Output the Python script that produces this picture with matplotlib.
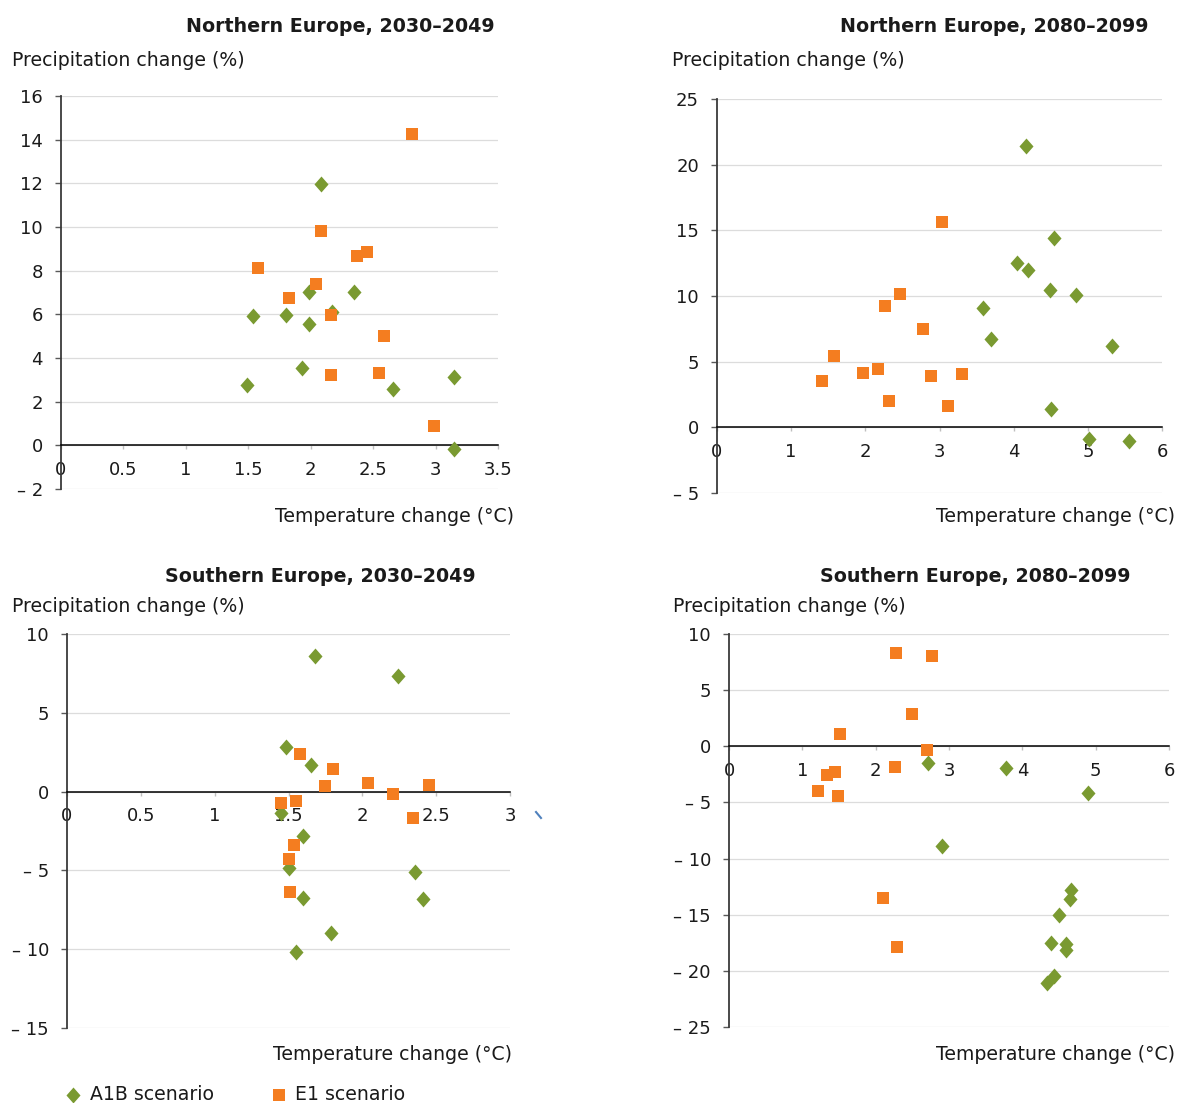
import matplotlib
matplotlib.use("Agg")
import matplotlib.pyplot as plt
from matplotlib.ticker import FuncFormatter, MultipleLocator
from matplotlib.path import Path
from matplotlib.lines import Line2D

plt.rcParams["font.family"] = ["DejaVu Sans"]

# ---- data: temperature change (°C) and precipitation change (%) ----
ne2030_a1b_temp = [1.49, 1.54, 1.80, 1.99, 1.99, 1.93, 2.08, 2.17, 2.35, 2.66, 3.15, 3.15]
ne2030_a1b_prec = [2.75, 5.92, 5.98, 7.03, 5.54, 3.54, 11.98, 6.11, 7.03, 2.60, 3.12, -0.18]
ne2030_e1_temp = [1.58, 1.83, 2.04, 2.08, 2.16, 2.16, 2.37, 2.45, 2.59, 2.55, 2.81, 2.99]
ne2030_e1_prec = [8.14, 6.75, 7.38, 9.83, 5.95, 3.21, 8.67, 8.84, 5.03, 3.30, 14.24, 0.87]

ne2080_a1b_temp = [4.17, 4.55, 4.05, 4.19, 4.49, 4.84, 3.58, 3.70, 5.32, 4.51, 5.02, 5.55]
ne2080_a1b_prec = [21.39, 14.38, 12.50, 11.99, 10.49, 10.11, 9.12, 6.76, 6.20, 1.40, -0.91, -1.04]
ne2080_e1_temp = [3.04, 2.47, 2.27, 2.78, 1.58, 2.17, 1.97, 1.42, 2.89, 3.30, 2.32, 3.11]
ne2080_e1_prec = [15.65, 10.19, 9.27, 7.52, 5.46, 4.45, 4.17, 3.51, 3.89, 4.04, 2.01, 1.63]

se2030_a1b_temp = [1.68, 2.24, 1.48, 1.65, 1.45, 1.60, 1.50, 1.60, 2.36, 2.41, 1.79, 1.55]
se2030_a1b_prec = [8.58, 7.34, 2.85, 1.71, -1.35, -2.83, -4.84, -6.77, -5.10, -6.83, -8.99, -10.19]
se2030_e1_temp = [1.58, 1.80, 1.75, 2.04, 2.21, 2.45, 1.45, 1.55, 2.34, 1.54, 1.50, 1.51]
se2030_e1_prec = [2.37, 1.44, 0.34, 0.55, -0.17, 0.44, -0.70, -0.59, -1.69, -3.40, -4.25, -6.36]

se2080_a1b_temp = [2.72, 3.78, 4.89, 2.90, 4.66, 4.65, 4.50, 4.39, 4.59, 4.60, 4.43, 4.34]
se2080_a1b_prec = [-1.51, -1.96, -4.15, -8.84, -12.79, -13.59, -15.01, -17.51, -17.63, -18.16, -20.50, -21.10]
se2080_e1_temp = [2.28, 2.77, 2.50, 1.51, 2.70, 2.26, 1.33, 1.44, 1.21, 1.48, 2.10, 2.29]
se2080_e1_prec = [8.34, 8.01, 2.91, 1.13, -0.33, -1.84, -2.52, -2.31, -4.01, -4.45, -13.47, -17.89]

series_names = ["A1B scenario", "E1 scenario"]

GREEN = "#7A9A31"
ORANGE = "#F47D20"
TEXT = "#1a1a1a"
LABEL_SIZE = 13.6
TICK_SIZE = 13

W, H = 1177, 1103
fig = plt.figure(figsize=(W / 100, H / 100), dpi=100)


def box(left, right, top, bottom):
    return [left / W, 1 - bottom / H, (right - left) / W, (bottom - top) / H]


diamond = Path([(0, 0.5), (0.44, 0), (0, -0.5), (-0.44, 0), (0, 0.5)],
               [Path.MOVETO, Path.LINETO, Path.LINETO, Path.LINETO, Path.CLOSEPOLY])
DIAMOND_SIZE = 11.5
SQUARE_SIZE = 8.9


def fmt(v, _pos=None):
    if abs(v) < 1e-9:
        return "0"
    if v < 0:
        return "\u2013 %g" % abs(v)
    return "%g" % v


def panel(rect, a_t, a_p, e_t, e_p, xlim, xstep, ylim, ystep):
    ax = fig.add_axes(rect)
    ax.set_xlim(*xlim)
    ax.set_ylim(*ylim)
    for s in ("top", "right"):
        ax.spines[s].set_visible(False)
    ax.spines["bottom"].set_position(("data", 0))
    ax.spines["bottom"].set_color("black")
    ax.spines["bottom"].set_linewidth(1.1)
    ax.spines["left"].set_color("#3a3a3a")
    ax.spines["left"].set_linewidth(1.3)
    ax.xaxis.set_major_locator(MultipleLocator(xstep))
    ax.yaxis.set_major_locator(MultipleLocator(ystep))
    ax.xaxis.set_major_formatter(FuncFormatter(fmt))
    ax.yaxis.set_major_formatter(FuncFormatter(fmt))
    ax.tick_params(axis="x", direction="out", length=3, width=1, color="#BFBFBF",
                   labelsize=TICK_SIZE, labelcolor=TEXT, pad=8)
    ax.tick_params(axis="y", direction="out", length=4, width=1, color="#595959",
                   labelsize=TICK_SIZE, labelcolor=TEXT, pad=9)
    ax.grid(axis="y", color="#DCDCDC", linewidth=0.9)
    ax.set_axisbelow(True)
    ax.plot(a_t, a_p, linestyle="none", marker=diamond, markersize=DIAMOND_SIZE,
            color=GREEN, markeredgewidth=0, label=series_names[0], zorder=3)
    ax.plot(e_t, e_p, linestyle="none", marker="s", markersize=SQUARE_SIZE,
            color=ORANGE, markeredgewidth=0, label=series_names[1], zorder=4)
    ax.patch.set_alpha(0)
    return ax


panel(box(61, 498, 96, 489), ne2030_a1b_temp, ne2030_a1b_prec,
      ne2030_e1_temp, ne2030_e1_prec, (0, 3.5), 0.5, (-2, 16), 2)
panel(box(717, 1162, 99, 493), ne2080_a1b_temp, ne2080_a1b_prec,
      ne2080_e1_temp, ne2080_e1_prec, (0, 6), 1, (-5, 25), 5)
panel(box(67, 510, 634, 1028), se2030_a1b_temp, se2030_a1b_prec,
      se2030_e1_temp, se2030_e1_prec, (0, 3), 0.5, (-15, 10), 5)
panel(box(729, 1169, 634, 1027), se2080_a1b_temp, se2080_a1b_prec,
      se2080_e1_temp, se2080_e1_prec, (0, 6), 1, (-25, 10), 5)


def ftext(x, y, s, **kw):
    fig.text(x / W, 1 - y / H, s, color=TEXT, **kw)


# panel titles
titles = [(340, 27, "Northern Europe, 2030\u20132049"),
          (994, 27, "Northern Europe, 2080\u20132099"),
          (320, 576, "Southern Europe, 2030\u20132049"),
          (975, 576, "Southern Europe, 2080\u20132099")]
for x, y, s in titles:
    ftext(x, y, s, ha="center", va="center", fontsize=13.7, fontweight="bold")

# axis titles
for x, y in [(12, 61), (672, 61), (12, 607), (673, 607)]:
    ftext(x, y, "Precipitation change (%)", ha="left", va="center", fontsize=LABEL_SIZE)
for x, y in [(514, 516), (1175, 516), (512, 1054), (1175, 1054)]:
    ftext(x, y, "Temperature change (\u00b0C)", ha="right", va="center", fontsize=LABEL_SIZE)

# small stray stroke beside the lower-left chart
fig.add_artist(Line2D([536 / W, 541 / W], [1 - 812 / H, 1 - 818 / H],
                      color="#4F81BD", linewidth=1.5))

# legend
fig.add_artist(Line2D([73 / W], [1 - 1095 / H], marker=diamond, markersize=DIAMOND_SIZE,
                      color=GREEN, markeredgewidth=0, linestyle="none"))
ftext(90, 1095, series_names[0], ha="left", va="center", fontsize=LABEL_SIZE)
fig.add_artist(Line2D([279 / W], [1 - 1095 / H], marker="s", markersize=SQUARE_SIZE,
                      color=ORANGE, markeredgewidth=0, linestyle="none"))
ftext(295, 1095, series_names[1], ha="left", va="center", fontsize=LABEL_SIZE)

fig.savefig("out.png", dpi=100, facecolor="white")
